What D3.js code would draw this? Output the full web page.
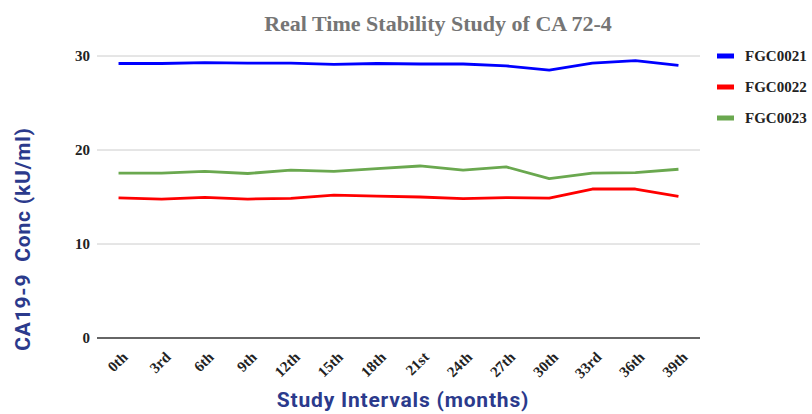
<!DOCTYPE html>
<html>
<head>
<meta charset="utf-8">
<script src="https://cdn.jsdelivr.net/npm/d3@7"></script>
<style>
  body { margin: 0; background: #fff; }
</style>
</head>
<body>
<svg id="chart" width="812" height="414"></svg>
<script>
// data
var intervals = ["0th", "3rd", "6th", "9th", "12th", "15th", "18th", "21st", "24th", "27th", "30th", "33rd", "36th", "39th"];
var fgc0021 = [29.2, 29.2, 29.3, 29.25, 29.25, 29.1, 29.2, 29.15, 29.15, 28.95, 28.5, 29.25, 29.5, 29.0];
var fgc0022 = [14.9, 14.78, 14.97, 14.78, 14.85, 15.2, 15.1, 15.0, 14.82, 14.93, 14.88, 15.85, 15.85, 15.07];
var fgc0023 = [17.55, 17.55, 17.72, 17.5, 17.85, 17.72, 18.02, 18.3, 17.85, 18.2, 16.95, 17.55, 17.6, 17.95];
var yTicks = [0, 10, 20, 30];

var series = [
  { name: "FGC0021", values: fgc0021, color: "#0000ff" },
  { name: "FGC0022", values: fgc0022, color: "#ff0000" },
  { name: "FGC0023", values: fgc0023, color: "#6aa84f" }
];

var serif = "'Liberation Serif', 'DejaVu Serif', serif";
var sans = "Roboto, Inter, 'Noto Sans', sans-serif";
var navy = "#2b3a8c";

var svg = d3.select("#chart");
var margin = { left: 97, right: 112, top: 56, bottom: 76 };
var W = 812, H = 414;

var x = d3.scaleBand()
  .domain(intervals)
  .range([margin.left, W - margin.right]);

var y = d3.scaleLinear()
  .domain([0, 30])
  .range([H - margin.bottom, margin.top]);

// gridlines
svg.append("g")
  .selectAll("line")
  .data(yTicks)
  .enter().append("line")
  .attr("x1", margin.left)
  .attr("x2", W - margin.right)
  .attr("y1", function(d) { return y(d); })
  .attr("y2", function(d) { return y(d); })
  .attr("stroke", function(d) { return d === 0 ? "#333" : "#cccccc"; })
  .attr("stroke-width", function(d) { return d === 0 ? 1.3 : 1; });

// y tick labels
svg.append("g")
  .selectAll("text")
  .data(yTicks)
  .enter().append("text")
  .attr("x", margin.left - 7)
  .attr("y", function(d) { return y(d); })
  .attr("dy", "0.35em")
  .attr("text-anchor", "end")
  .style("font-family", serif)
  .style("font-weight", "bold")
  .style("font-size", "15px")
  .attr("fill", "#222")
  .text(function(d) { return d; });

// x tick labels, rotated
svg.append("g")
  .selectAll("text")
  .data(intervals)
  .enter().append("text")
  .attr("transform", function(d) {
    return "translate(" + (x(d) + x.bandwidth() / 2 + 10) + "," + (H - margin.bottom + 20) + ") rotate(-45)";
  })
  .attr("text-anchor", "end")
  .style("font-family", serif)
  .style("font-weight", "bold")
  .style("font-size", "15px")
  .attr("fill", "#222")
  .text(function(d) { return d; });

// lines
var line = d3.line()
  .x(function(d, i) { return x(intervals[i]) + x.bandwidth() / 2; })
  .y(function(d) { return y(d); });

svg.append("g")
  .selectAll("path")
  .data(series)
  .enter().append("path")
  .attr("d", function(s) { return line(s.values); })
  .attr("fill", "none")
  .attr("stroke", function(s) { return s.color; })
  .attr("stroke-width", 2.8)
  .attr("stroke-linejoin", "round");

// title
svg.append("text")
  .attr("x", 438)
  .attr("y", 31)
  .attr("text-anchor", "middle")
  .style("font-family", serif)
  .style("font-weight", "bold")
  .style("font-size", "22px")
  .attr("fill", "#757575")
  .text("Real Time Stability Study of CA 72-4");

// axis titles
svg.append("text")
  .attr("transform", "translate(30," + 239 + ") rotate(-90)")
  .attr("text-anchor", "middle")
  .style("font-family", sans)
  .style("font-weight", "bold")
  .style("font-size", "21px")
  .style("letter-spacing", "0.8px")
  .attr("fill", navy)
  .text("CA19-9\u00a0 Conc (kU/ml)");

svg.append("text")
  .attr("x", 403)
  .attr("y", 407)
  .attr("text-anchor", "middle")
  .style("font-family", sans)
  .style("font-weight", "bold")
  .style("font-size", "21px")
  .style("letter-spacing", "0.8px")
  .attr("fill", navy)
  .text("Study Intervals (months)");

// legend
var legend = svg.append("g")
  .selectAll("g")
  .data(series)
  .enter().append("g")
  .attr("transform", function(d, i) { return "translate(717," + (56 + i * 31) + ")"; });

legend.append("rect")
  .attr("x", 0)
  .attr("y", -2.5)
  .attr("width", 17)
  .attr("height", 5)
  .attr("fill", function(d) { return d.color; });

legend.append("text")
  .attr("x", 28)
  .attr("y", 0)
  .attr("dy", "0.35em")
  .style("font-family", serif)
  .style("font-weight", "bold")
  .style("font-size", "15px")
  .attr("fill", "#222")
  .text(function(d) { return d.name; });
</script>
</body>
</html>
